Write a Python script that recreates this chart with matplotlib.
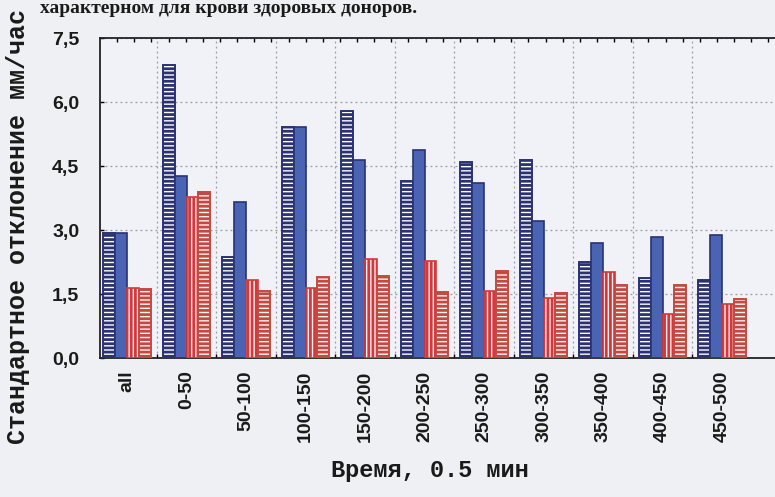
import numpy as np
import matplotlib
matplotlib.use("Agg")
import matplotlib.pyplot as plt

# интервалы времени
groups = ["all", "0-50", "50-100", "100-150", "150-200", "200-250",
          "250-300", "300-350", "350-400", "400-450", "450-500"]

# стандартное отклонение, мм/час, четыре серии
s1 = [2.94, 6.87, 2.36, 5.41, 5.79, 4.16, 4.60, 4.64, 2.26, 1.87, 1.83]
s2 = [2.94, 4.27, 3.66, 5.41, 4.64, 4.87, 4.11, 3.21, 2.69, 2.84, 2.88]
s3 = [1.64, 3.78, 1.83, 1.63, 2.32, 2.28, 1.57, 1.41, 2.02, 1.03, 1.26]
s4 = [1.62, 3.88, 1.58, 1.91, 1.93, 1.55, 2.05, 1.52, 1.71, 1.71, 1.38]

yticks = [0, 1.5, 3.0, 4.5, 6.0, 7.5]
ylabels = ["0,0", "1,5", "3,0", "4,5", "6,0", "7,5"]

plt.rcParams["hatch.linewidth"] = 2.0
plt.rcParams["font.family"] = ["Liberation Sans", "DejaVu Sans"]

fig = plt.figure(figsize=(7.75, 4.97), dpi=100)
fig.patch.set_facecolor("#eef0f4")
ax = fig.add_axes([100/775, 1-358/497, 675/775, 320/497])
ax.set_facecolor("#f1f2f7")

x = np.arange(len(groups))
w = 0.2
navy = "#2a3272"
ax.bar(x - 1.5*w, s1, w, facecolor="white", edgecolor=navy, hatch="----", lw=1.4, zorder=3)
ax.bar(x - 0.5*w, s2, w, facecolor="#4a63b3", edgecolor=navy, lw=1.2, zorder=3)
ax.bar(x + 0.5*w, s3, w, facecolor="#fbeff0", edgecolor="#d2383c", hatch="||||", lw=1.2, zorder=3)
ax.bar(x + 1.5*w, s4, w, facecolor="#fff6f4", edgecolor="#c24a42", hatch="----", lw=1.4, zorder=3)

ax.set_xlim(-0.454, 10.89)
ax.set_ylim(0, 7.5)

# подписи по оси x
ax.set_xticks(x)
ax.set_xticklabels(groups, rotation=90, fontsize=14, fontweight="bold", color="#1a1a1a")
ax.tick_params(axis="x", which="major", length=0, pad=9)
ax.set_xticks(x[:-1] + 0.5, minor=True)
ax.tick_params(axis="x", which="minor", direction="in", length=3, width=1)

ax.set_yticks(yticks)
ax.set_yticklabels(ylabels, fontsize=14, fontweight="bold", color="#1a1a1a")
ax.tick_params(axis="y", direction="in", length=3, width=1, pad=15)

# пунктирная сетка
ax.grid(axis="y", which="major", linestyle=(0, (1.5, 2.5)), color="#9a9aa4", lw=0.9, zorder=0)
ax.grid(axis="x", which="minor", linestyle=(0, (1.5, 2.5)), color="#9a9aa4", lw=0.9, zorder=0)

for s in ["left", "bottom", "top"]:
    ax.spines[s].set_linewidth(1.3)
    ax.spines[s].set_color("#222222")
ax.spines["right"].set_visible(False)

# мелкие штрихи сверху
top = ax.secondary_xaxis("top")
top.set_xticks(np.arange(-0.454 + 0.288, 10.89, 0.288))
top.tick_params(direction="in", length=3, width=1, labeltop=False)
top.spines["top"].set_visible(False)

mono = ["Liberation Mono", "DejaVu Sans Mono"]
fig.text(18/775, 1-226/497, "Стандартное отклонение мм/час", rotation=90,
         ha="center", va="center", fontsize=18, fontweight="bold", family=mono, color="#1a1a1a")
fig.text(430/775, 1-470/497, "Время, 0.5 мин", ha="center", va="center",
         fontsize=17, fontweight="bold", family=mono, color="#1a1a1a")

# строка текста над рисунком
fig.text(40/775, 1-13/497, "характерном для крови здоровых доноров.", ha="left", va="baseline",
         fontsize=14, fontweight="bold", family=["Liberation Serif", "DejaVu Serif"], color="#1a1a1a")

fig.savefig("out.png", dpi=100, facecolor=fig.get_facecolor())
